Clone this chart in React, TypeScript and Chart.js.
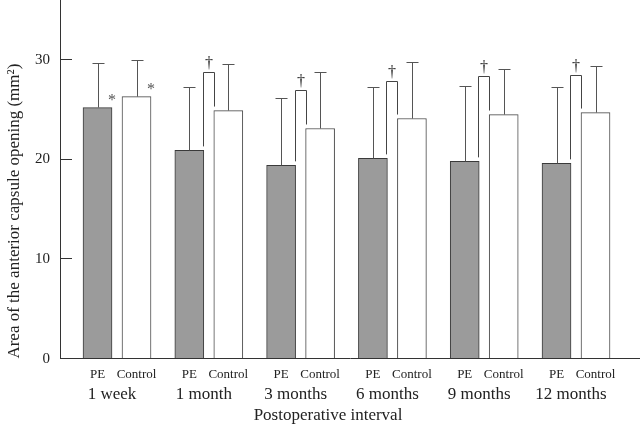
import React, { useEffect, useRef } from 'react';
import { Chart, registerables } from 'chart.js';

Chart.register(...registerables);

// ---- data ----
const intervals = ['1 week', '1 month', '3 months', '6 months', '9 months', '12 months'];
const seriesNames = ['PE', 'Control'];
const peMean = [25.2, 20.9, 19.4, 20.1, 19.8, 19.6];
const peSD = [4.5, 6.4, 6.8, 7.2, 7.6, 7.7];
const controlMean = [26.3, 24.9, 23.1, 24.1, 24.5, 24.7];
const controlSD = [3.7, 4.7, 5.7, 5.7, 4.6, 4.7];
const bracketLevel = [null, 28.8, 27.0, 27.9, 28.4, 28.5];
const bracketMark = ['', '†', '†', '†', '†', '†'];
const peMark = ['*', '', '', '', '', ''];
const controlMark = ['*', '', '', '', '', ''];
const yTickValues = [0, 10, 20, 30];
const yTitle = 'Area of the anterior capsule opening (mm²)';
const xTitle = 'Postoperative interval';

// ---- layout / style constants ----
const BAR_SHIFT = 0.2124;
const X_MIN = -0.621;
const X_MAX = 5.697;
const Y_MAX = 36;
const LEFT_PAD = 16;
const FONT = "'Liberation Serif', 'Times New Roman', serif";
const TEXT = '#222';

const barTicks: number[] = [];
intervals.forEach((_, i) => {
  barTicks.push(i - BAR_SHIFT, i + BAR_SHIFT);
});

const fixBox = (h: number) => (s: any) => {
  s.height = h;
  s.paddingLeft = 0;
  s.paddingRight = 0;
  s.paddingTop = 0;
  s.paddingBottom = 0;
};

const annotate = {
  id: 'annotate',
  afterDatasetsDraw(chart: any) {
    const ctx = chart.ctx;
    const ys = chart.scales.y;
    const pe = chart.getDatasetMeta(0).data;
    const ct = chart.getDatasetMeta(1).data;
    ctx.save();
    ctx.lineWidth = 1;
    const drawErr = (bar: any, mean: number, sd: number) => {
      const x = Math.round(bar.x) + 0.5;
      const yt = Math.round(ys.getPixelForValue(mean + sd)) + 0.5;
      ctx.strokeStyle = '#555';
      ctx.beginPath();
      ctx.moveTo(x, bar.y);
      ctx.lineTo(x, yt);
      ctx.moveTo(x - 6, yt);
      ctx.lineTo(x + 6, yt);
      ctx.stroke();
    };
    intervals.forEach((_, i) => {
      drawErr(pe[i], peMean[i], peSD[i]);
      drawErr(ct[i], controlMean[i], controlSD[i]);
      ctx.fillStyle = '#555';
      ctx.font = `16px ${FONT}`;
      ctx.textAlign = 'center';
      ctx.textBaseline = 'alphabetic';
      if (peMark[i]) ctx.fillText(peMark[i], pe[i].x + pe[i].width / 2, pe[i].y - 3);
      if (controlMark[i]) ctx.fillText(controlMark[i], ct[i].x + ct[i].width / 2, ct[i].y - 3);
      const lvl = bracketLevel[i];
      if (lvl != null) {
        const xl = Math.round(pe[i].x + pe[i].width / 2) - 0.5;
        const xr = Math.round(ct[i].x - ct[i].width / 2) + 0.5;
        const yt = Math.round(ys.getPixelForValue(lvl)) + 0.5;
        ctx.strokeStyle = '#444';
        ctx.beginPath();
        ctx.moveTo(xl, pe[i].y - 4);
        ctx.lineTo(xl, yt);
        ctx.lineTo(xr, yt);
        ctx.lineTo(xr, ct[i].y - 4);
        ctx.stroke();
        ctx.fillStyle = '#222';
        ctx.font = `16px ${FONT}`;
        ctx.fillText(bracketMark[i], (xl + xr) / 2, yt - 5);
      }
    });
    ctx.restore();
  },
};

export default function App() {
  const ref = useRef<HTMLCanvasElement>(null);
  useEffect(() => {
    const chart = new Chart(ref.current as HTMLCanvasElement, {
      type: 'bar',
      data: {
        datasets: [
          {
            label: seriesNames[0],
            data: peMean.map((v, i) => ({ x: i - BAR_SHIFT, y: v })),
            backgroundColor: '#9b9b9b',
            borderColor: '#3a3a3a',
            borderWidth: 1,
            barThickness: 29,
            grouped: false,
          } as any,
          {
            label: seriesNames[1],
            data: controlMean.map((v, i) => ({ x: i + BAR_SHIFT, y: v })),
            backgroundColor: '#ffffff',
            borderColor: '#4a4a4a',
            borderWidth: 1,
            barThickness: 29,
            grouped: false,
          } as any,
        ],
      },
      options: {
        responsive: false,
        animation: false,
        layout: { padding: { left: LEFT_PAD, top: 0, right: 0, bottom: 0 } },
        plugins: {
          legend: { display: false },
          tooltip: { enabled: false },
          title: {
            display: true,
            text: xTitle,
            position: 'bottom',
            color: TEXT,
            font: { family: FONT, size: 17, weight: 'normal' },
            padding: { top: 0, bottom: 0 },
          },
        },
        scales: {
          x: {
            type: 'linear',
            position: 'bottom',
            min: X_MIN,
            max: X_MAX,
            offset: false,
            grid: { display: false, drawTicks: false },
            border: { display: true, color: '#333', width: 1 },
            afterBuildTicks: (s: any) => {
              s.ticks = barTicks.map((v) => ({ value: v }));
            },
            afterFit: fixBox(23),
            ticks: {
              autoSkip: false,
              maxRotation: 0,
              padding: 8,
              color: TEXT,
              font: { family: FONT, size: 13 },
              callback: (_v: any, idx: number) => seriesNames[idx % 2],
            },
          },
          x2: {
            type: 'linear',
            position: 'bottom',
            min: X_MIN,
            max: X_MAX,
            offset: false,
            grid: { display: false, drawTicks: false },
            border: { display: false },
            afterBuildTicks: (s: any) => {
              s.ticks = intervals.map((_, i) => ({ value: i }));
            },
            afterFit: fixBox(24),
            ticks: {
              autoSkip: false,
              maxRotation: 0,
              padding: 3,
              labelOffset: -5,
              color: TEXT,
              font: { family: FONT, size: 17 },
              callback: (_v: any, idx: number) => intervals[idx],
            },
          },
          y: {
            type: 'linear',
            min: 0,
            max: Y_MAX,
            grid: {
              display: true,
              drawOnChartArea: false,
              drawTicks: true,
              tickLength: -12,
              color: '#333',
              lineWidth: 1,
            },
            border: { display: true, color: '#333', width: 1 },
            afterBuildTicks: (s: any) => {
              s.ticks = yTickValues.map((v) => ({ value: v }));
            },
            afterFit: (s: any) => {
              s.width = 60 - LEFT_PAD;
              s.paddingTop = 0;
              s.paddingBottom = 0;
            },
            ticks: {
              padding: 22,
              color: TEXT,
              font: { family: FONT, size: 15 },
            },
            title: {
              display: true,
              text: yTitle,
              align: 'start',
              color: TEXT,
              font: { family: FONT, size: 17 },
              padding: { top: 4 - LEFT_PAD, bottom: 0 },
            },
          },
        },
      } as any,
      plugins: [annotate],
    });
    return () => chart.destroy();
  }, []);
  return (
    <div style={{ position: 'absolute', left: 0, top: 0, width: 640, height: 426, background: '#fff' }}>
      <canvas ref={ref} width={640} height={426} style={{ display: 'block' }} />
    </div>
  );
}
